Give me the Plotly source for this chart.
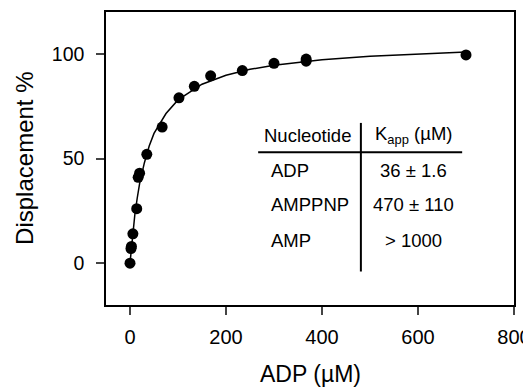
import plotly.graph_objects as go

# Measured data (ADP µM, displacement %)
adp_conc = [0, 2, 3, 6, 14, 17, 20, 35, 67, 102, 134, 168, 234, 300, 367, 367, 700]
displacement = [0, 7, 8, 14, 26, 41, 43, 52, 65, 79, 84.5, 89.5, 92, 95.5, 96.5, 97.5, 99.5]

# Fitted curve
fit_x = [0, 5, 10, 15, 20, 30, 40, 50, 75, 100, 150, 200, 250, 300, 400, 500, 600, 700]
fit_y = [0, 13, 23, 31, 38, 48, 56, 62, 71.5, 78, 85.5, 89.8, 92.6, 94.6, 97.2, 98.8, 100, 100.9]

# Inset table
table_names = ["ADP", "AMPPNP", "AMP"]
table_kapp = ["36 ± 1.6", "470 ± 110", "> 1000"]
table_header = ["Nucleotide", "K<sub>app</sub> (µM)"]

x_ticks = [0, 200, 400, 600, 800]
y_ticks = [0, 50, 100]

FONT = "Liberation Sans, Arial, sans-serif"
TF = dict(size=18.5, color="black", family=FONT)

fig = go.Figure()
fig.add_trace(go.Scatter(x=fit_x, y=fit_y, mode="lines",
                         line=dict(color="black", width=1.5), showlegend=False))
fig.add_trace(go.Scatter(x=adp_conc, y=displacement, mode="markers",
                         marker=dict(color="black", size=11), showlegend=False))

# Table placement (data coordinates)
header_x = 275
rows_x = 290
col2_x = 590
rows_y = [44.5, 27.8, 11]
header_y = 61.2

anns = [
    dict(x=header_x, y=header_y, text=table_header[0], showarrow=False,
         xanchor="left", yanchor="middle", font=TF),
    dict(x=col2_x, y=header_y, text=table_header[1], showarrow=False,
         xanchor="center", yanchor="middle", font=TF),
]
for n, k, yy in zip(table_names, table_kapp, rows_y):
    anns.append(dict(x=rows_x, y=yy, text=n, showarrow=False, xanchor="left", yanchor="middle", font=TF))
    anns.append(dict(x=col2_x, y=yy, text=k, showarrow=False, xanchor="center", yanchor="middle", font=TF))

# Axis titles
anns.append(dict(xref="paper", yref="paper", x=0.5, y=-0.236, text="ADP (µM)", showarrow=False,
                 xanchor="center", yanchor="middle", font=dict(size=23, color="black", family=FONT)))
anns.append(dict(xref="paper", yref="paper", x=-0.20, y=0.5, text="Displacement %", showarrow=False,
                 textangle=-90, xanchor="center", yanchor="middle",
                 font=dict(size=24, color="black", family=FONT)))

shapes = [
    dict(type="line", x0=267, x1=692, y0=53, y1=53, line=dict(color="black", width=2)),
    dict(type="line", x0=481, x1=481, y0=67, y1=-4, line=dict(color="black", width=2)),
]

fig.update_layout(
    width=531, height=387,
    margin=dict(l=98, r=25, t=4, b=90),
    paper_bgcolor="white", plot_bgcolor="white",
    font=dict(family=FONT, color="black", size=20),
    annotations=anns, shapes=shapes,
    xaxis=dict(range=[-50, 800], tickvals=x_ticks, ticks="outside", ticklen=8, tickwidth=1.5,
               showline=True, mirror=True, linecolor="black", linewidth=1.5, showgrid=False,
               zeroline=False, tickfont=dict(size=20), automargin=False, ticklabelstandoff=5),
    yaxis=dict(range=[-20, 120], tickvals=y_ticks, ticks="outside", ticklen=8, tickwidth=1.5,
               showline=True, mirror=True, linecolor="black", linewidth=1.5, showgrid=False,
               zeroline=False, tickfont=dict(size=19.5), automargin=False, ticklabelstandoff=8),
)

fig.write_html("out.html")
